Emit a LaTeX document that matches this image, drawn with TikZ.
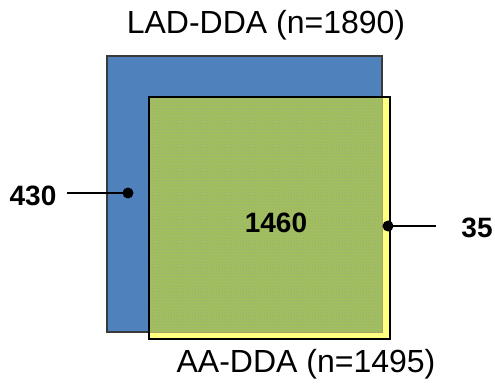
\documentclass[tikz,border=0pt]{standalone}
\usepackage{fontspec}
\setmainfont{Liberation Sans}
\usetikzlibrary{patterns}
\definecolor{ladblue}{HTML}{4F81BD}
\definecolor{aayellow}{HTML}{FFFF80}
\definecolor{overlapgreen}{HTML}{A3BF5B}
\definecolor{dotblue}{HTML}{8196C4}
\definecolor{ladedge}{HTML}{3A3A3A}
\tikzset{
  ladbox/.style={fill=ladblue, draw=ladedge, line width=1.2pt},
  setlabel/.style={font=\fontsize{32}{38}\selectfont, inner sep=0pt, anchor=base},
  countlabel/.style={font=\bfseries\fontsize{28}{34}\selectfont, inner sep=0pt, anchor=base},
  leader/.style={draw=black, line width=1.6pt},
  dotmark/.style={fill=black}
}
\begin{document}
\begin{tikzpicture}[x=1pt,y=-1pt]
\useasboundingbox (0,0) rectangle (495,385);
\fill[white] (0,0) rectangle (495,385);
% LAD-DDA square
\draw[ladbox] (107,56) rectangle (382,332);
% AA-DDA square fill
\fill[aayellow] (149,97) rectangle (390,339);
% overlap
\fill[overlapgreen] (149,97) rectangle (382,332);
\fill[pattern=dots, pattern color=dotblue] (149,97) rectangle (382,332);
\draw[ladedge, opacity=0.45, line width=1pt] (382,97) -- (382,332) -- (149,332);
% AA-DDA border
\draw[black, line width=1.6pt] (149,97) rectangle (390,339);
% labels
\node[setlabel] (lad) at (266,34) {LAD-DDA (n=1890)};
\node[setlabel] (aa) at (306,372) {AA-DDA (n=1495)};
\node[countlabel] (both) at (276,232) {1460};
\node[countlabel] (ladonly) at (33,205) {430};
\node[countlabel] (aaonly) at (477,237) {35};
% leaders
\coordinate (dlad) at (128,193);
\coordinate (daa) at (388,226);
\draw[leader] ([xshift=10pt]ladonly.east |- dlad) -- (dlad);
\fill[dotmark] (dlad) circle (5.5);
\draw[leader] (daa) -- ([xshift=-25pt]aaonly.west |- daa);
\fill[dotmark] (daa) circle (5.5);
\end{tikzpicture}
\end{document}
